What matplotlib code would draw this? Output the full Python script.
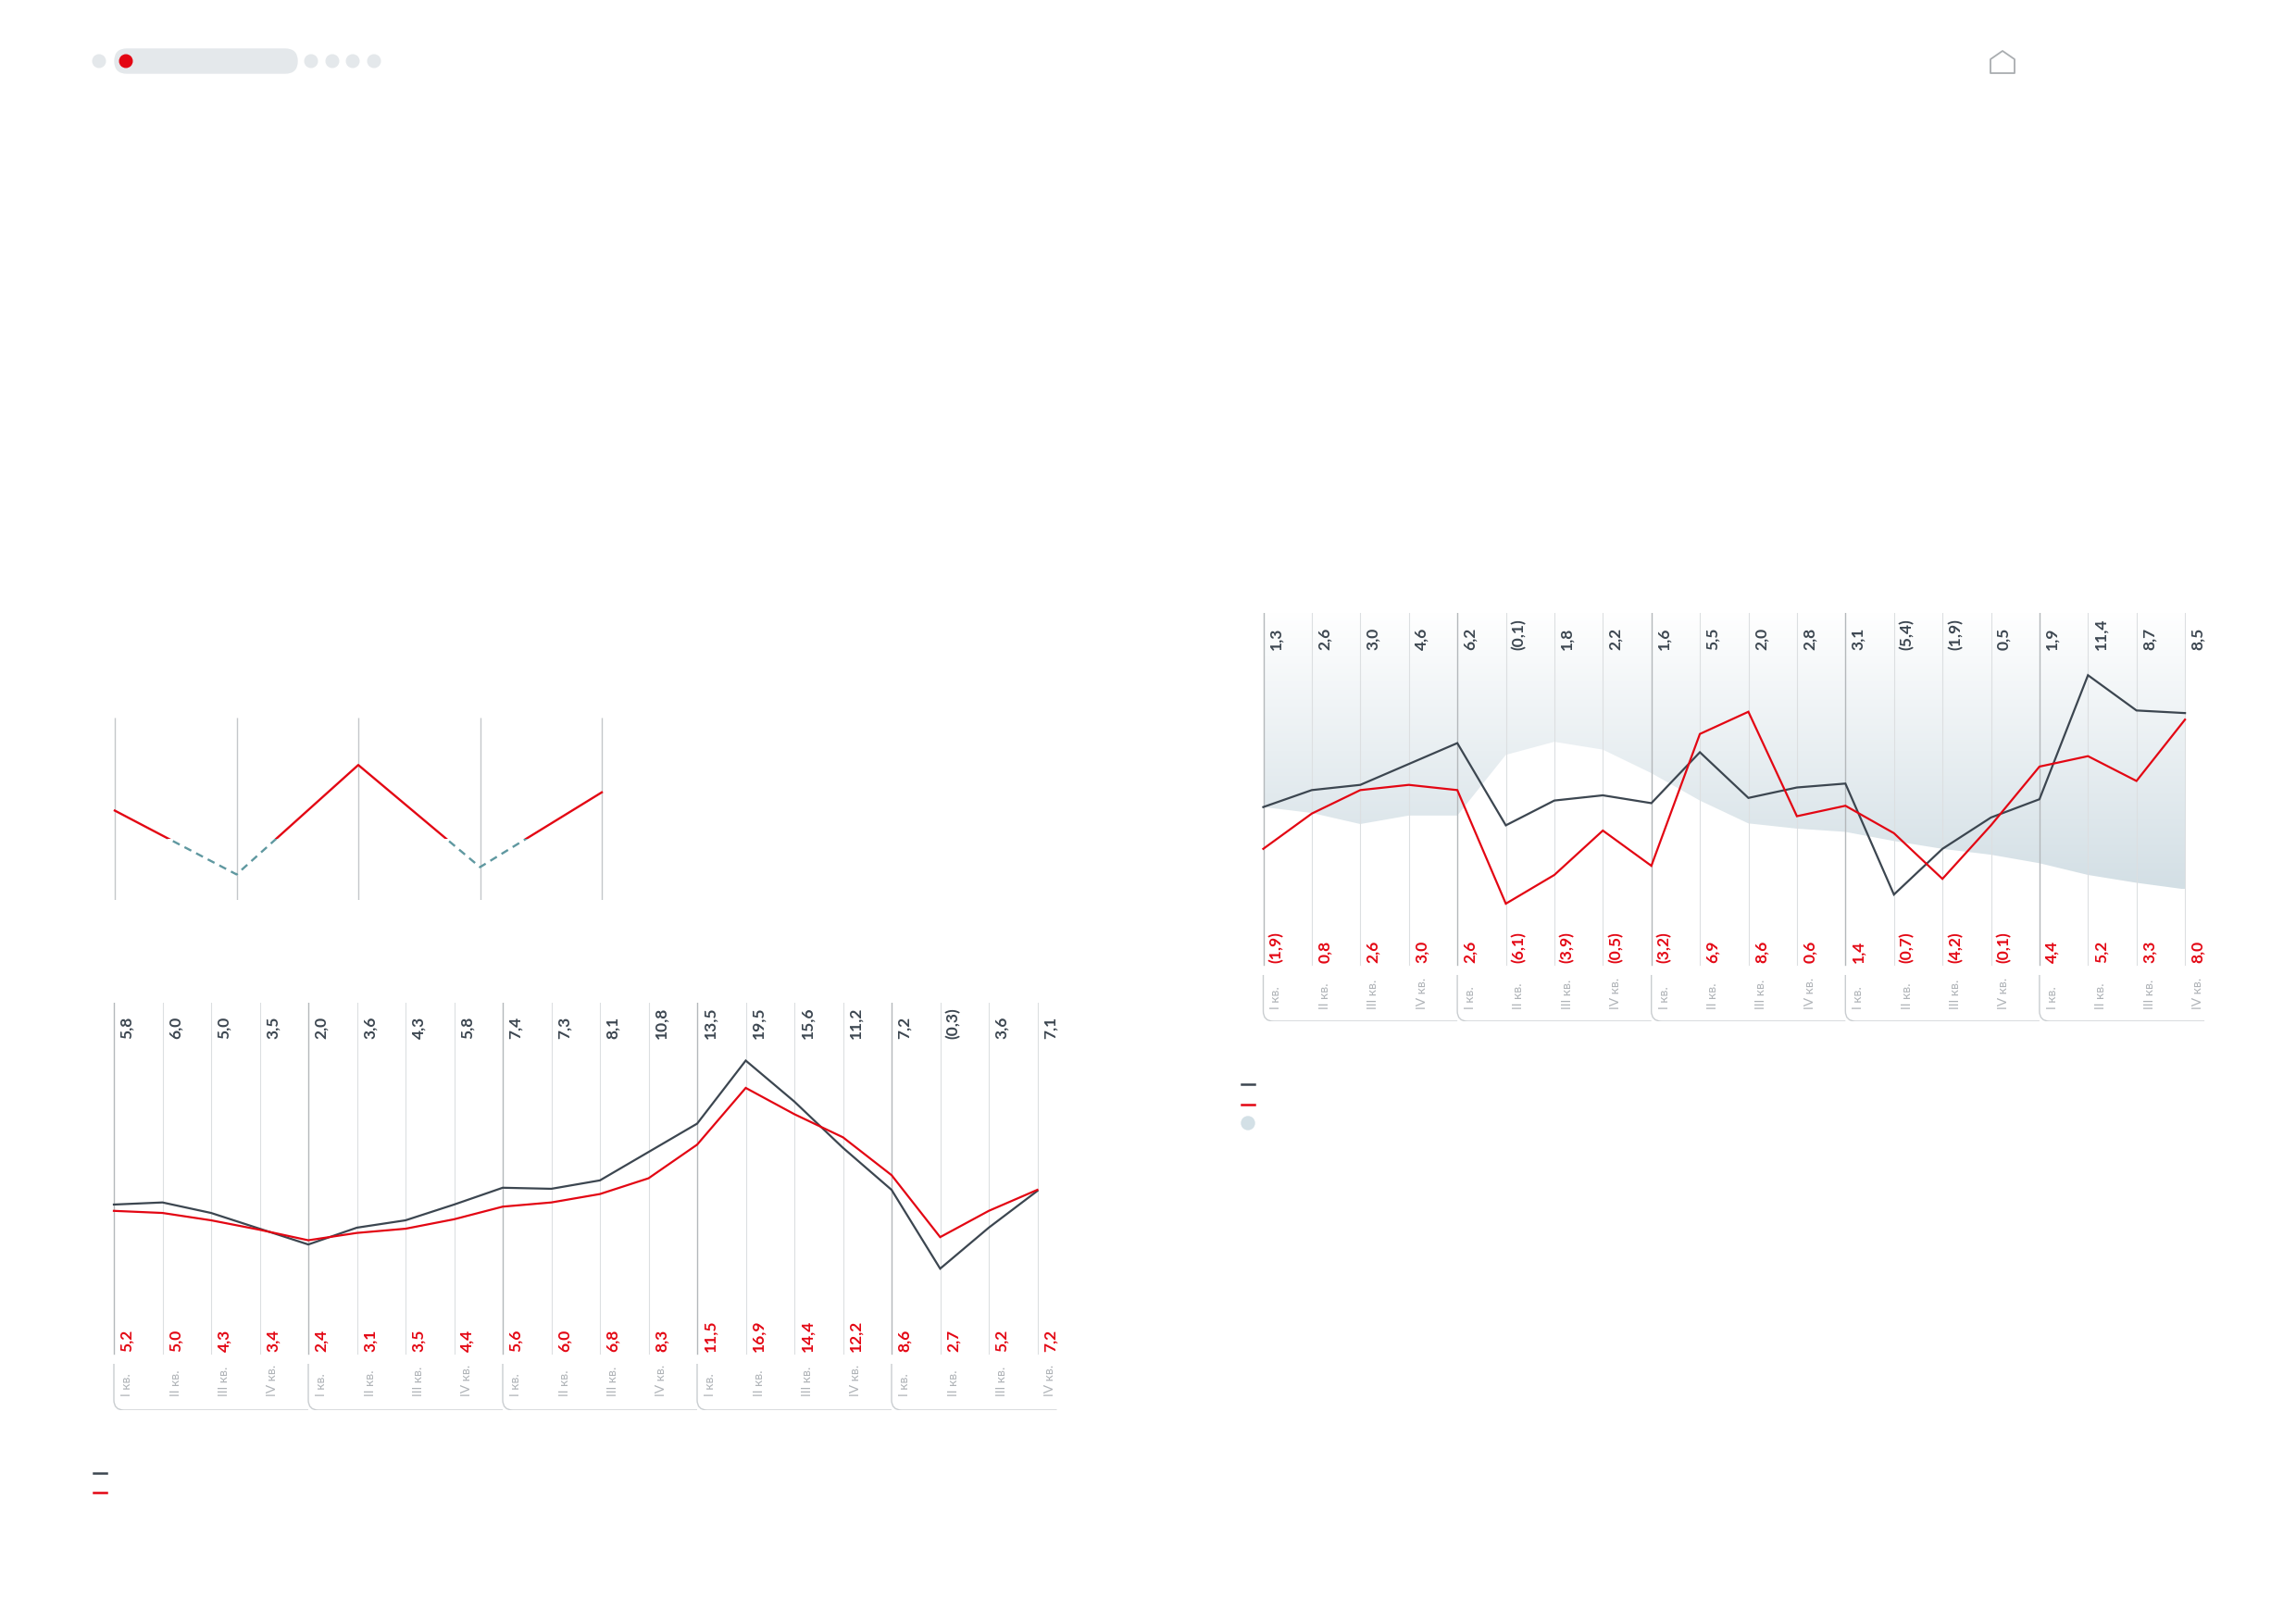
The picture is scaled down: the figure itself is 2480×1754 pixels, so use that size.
import matplotlib
matplotlib.use('Agg')
import matplotlib.pyplot as plt
import matplotlib.patches as patches
from matplotlib.path import Path
from matplotlib.colors import LinearSegmentedColormap
import numpy as np

W, H = 2480, 1754
DPI = 100

# ---- data ----
quarters = ['I кв.', 'II кв.', 'III кв.', 'IV кв.']

left_dark = [5.8, 6.0, 5.0, 3.5, 2.0, 3.6, 4.3, 5.8, 7.4, 7.3,
             8.1, 10.8, 13.5, 19.5, 15.6, 11.2, 7.2, -0.3, 3.6, 7.1]
left_red = [5.2, 5.0, 4.3, 3.4, 2.4, 3.1, 3.5, 4.4, 5.6, 6.0,
            6.8, 8.3, 11.5, 16.9, 14.4, 12.2, 8.6, 2.7, 5.2, 7.2]

right_dark = [1.3, 2.6, 3.0, 4.6, 6.2, -0.1, 1.8, 2.2, 1.6, 5.5,
              2.0, 2.8, 3.1, -5.4, -1.9, 0.5, 1.9, 11.4, 8.7, 8.5]
right_red = [-1.9, 0.8, 2.6, 3.0, 2.6, -6.1, -3.9, -0.5, -3.2, 6.9,
             8.6, 0.6, 1.4, -0.7, -4.2, -0.1, 4.4, 5.2, 3.3, 8.0]
right_area = [1.3, 0.85, 0.0, 0.65, 0.65, 5.3, 6.3, 5.7, 3.9, 1.8,
              0.05, -0.35, -0.6, -1.3, -1.9, -2.35, -3.0, -3.9, -4.5, -5.0]

small_vals = [49, 14, 74, 18, 59]
small_limit = 33.5

DARK = '#3c4650'
RED = '#e30613'
TEAL = '#5f98a0'
FONT = ['Lato', 'Open Sans', 'DejaVu Sans']

fig = plt.figure(figsize=(W / DPI, H / DPI), dpi=DPI)
fig.patch.set_facecolor('white')


def fmt(v):
    s = f'{abs(v):.1f}'.replace('.', ',')
    return f'({s})' if v < 0 else s


def px_axes(left, top, right, bottom):
    return fig.add_axes([left / W, 1 - bottom / H, (right - left) / W, (bottom - top) / H])


# Quarterly chart with value labels, grid and group brackets
def quarter_chart(g, dark, red, area=None):
    n = len(dark)
    x = np.arange(n)
    ax = px_axes(g['x0'] - g['dx'], g['top'], g['x0'] + n * g['dx'], g['bot'])
    ax.axis('off')
    ylo = (g['zero'] - g['bot']) / g['scale']
    yhi = (g['zero'] - g['top']) / g['scale']

    def fy(y):
        return (g['bot'] - y) / (g['bot'] - g['top'])

    tr = ax.get_xaxis_transform()

    if area is not None:
        cmap = LinearSegmentedColormap.from_list('shade', ['#ffffff', '#d3dfe5'])
        grad = np.linspace(1, 0, 256).reshape(-1, 1)
        im = ax.imshow(grad, extent=[0, n - 1, min(area), yhi], origin='lower',
                       aspect='auto', cmap=cmap, zorder=0)
        poly = ax.fill_between(x, area, yhi, color='none', lw=0)
        im.set_clip_path(poly.get_paths()[0], ax.transData)

    for i in x:
        if i % 4 == 0:
            ax.plot([i, i], [fy(g['top']), fy(g['line_end'])], transform=tr,
                    color='#b4b8bb', lw=1.0, zorder=1)
        else:
            ax.plot([i, i], [fy(g['top']), fy(g['line_end'])], transform=tr,
                    color='#dcdfe1', lw=0.8, zorder=1)

    # brackets under each year group
    rx = 11 / g['dx']
    ry = 11 / (g['bot'] - g['top'])
    for s in range(0, n, 4):
        e = s + 4 if s + 4 < n else n - 1 + 0.4
        verts = [(s, fy(g['br_start'])), (s, fy(g['bot']) + ry), (s, fy(g['bot'])),
                 (s + rx, fy(g['bot'])), (e, fy(g['bot']))]
        codes = [Path.MOVETO, Path.LINETO, Path.CURVE3, Path.CURVE3, Path.LINETO]
        ax.add_patch(patches.PathPatch(Path(verts, codes), transform=tr, fill=False,
                                       edgecolor='#c9cdd0', lw=1.0, zorder=1))

    ax.plot(x, dark, color=DARK, lw=1.6, zorder=3, solid_joinstyle='miter')
    ax.plot(x, red, color=RED, lw=1.6, zorder=4, solid_joinstyle='miter')

    off = 14 / g['dx']
    for i in x:
        ax.text(i + off, fy(g['lab_top']), fmt(dark[i]), transform=tr, rotation=90,
                ha='center', va='bottom', fontsize=12.5, fontweight='bold',
                color=DARK, family=FONT)
        ax.text(i + off, fy(g['lab_red']), fmt(red[i]), transform=tr, rotation=90,
                ha='center', va='bottom', fontsize=12.5, fontweight='bold',
                color=RED, family=FONT)
        ax.text(i + off, fy(g['lab_cat']), quarters[i % 4], transform=tr, rotation=90,
                ha='center', va='bottom', fontsize=10, color='#afb3b7', family=FONT)

    ax.set_xlim(-1, n)
    ax.set_ylim(ylo, yhi)
    return ax


left_geo = dict(x0=123, dx=52.5, top=1083, bot=1523, zero=1366.8, scale=11.35,
                lab_top=1122, lab_red=1460, lab_cat=1508, line_end=1462, br_start=1473)
right_geo = dict(x0=1364.5, dx=52.4, top=662, bot=1103, zero=890, scale=14.1,
                 lab_top=702, lab_red=1040, lab_cat=1090, line_end=1042, br_start=1053)

quarter_chart(left_geo, left_dark, left_red)
quarter_chart(right_geo, right_dark, right_red, area=right_area)

# small chart with threshold (dashed below the limit)
sdx = 131.5
sax = px_axes(124 - sdx / 2, 775, 650 + sdx / 2, 972)
sax.axis('off')
sx = np.arange(len(small_vals))
sax.vlines(sx, 0, 100, color='#c4c7ca', lw=1.0)
red_line, = sax.plot(sx, small_vals, color=RED, lw=1.7, zorder=3)
teal_line, = sax.plot(sx, small_vals, color=TEAL, lw=1.7, ls=(0, (3.5, 2.5)), zorder=3)
above = patches.Rectangle((-1, small_limit), 10, 200, transform=sax.transData)
below = patches.Rectangle((-1, small_limit - 200), 10, 200, transform=sax.transData)
red_line.set_clip_path(above)
teal_line.set_clip_path(below)
sax.set_xlim(-0.5, len(small_vals) - 0.5)
sax.set_ylim(0, 100)

# page decoration: navigation, home icon, legend keys
deco = fig.add_axes([0, 0, 1, 1], zorder=-1)
deco.set_xlim(0, W)
deco.set_ylim(H, 0)
deco.axis('off')
NAV = '#e4e8eb'
deco.add_patch(patches.Circle((107, 66), 6.8, color=NAV))
deco.add_patch(patches.FancyBboxPatch((124, 53), 197, 26,
                                      boxstyle='round,pad=0,rounding_size=13', color=NAV))
deco.add_patch(patches.Circle((136, 66), 6.8, color=RED))
for cx in [336, 359, 381, 404]:
    deco.add_patch(patches.Circle((cx, 66), 6.8, color=NAV))
deco.add_patch(patches.Polygon([(2150, 79), (2150, 64), (2163, 55), (2176, 64), (2176, 79)],
                               closed=True, fill=False, edgecolor='#a9adb0', lw=1.3,
                               joinstyle='round'))

deco.plot([101, 115], [1591, 1591], color=DARK, lw=1.8)
deco.plot([101, 115], [1612, 1612], color=RED, lw=1.8)
deco.plot([1341, 1355], [1171, 1171], color=DARK, lw=1.8)
deco.plot([1341, 1355], [1193, 1193], color=RED, lw=1.8)
deco.add_patch(patches.Circle((1348, 1213), 7, color='#d3e0e6'))

fig.savefig('out.png', dpi=DPI, facecolor='white')
